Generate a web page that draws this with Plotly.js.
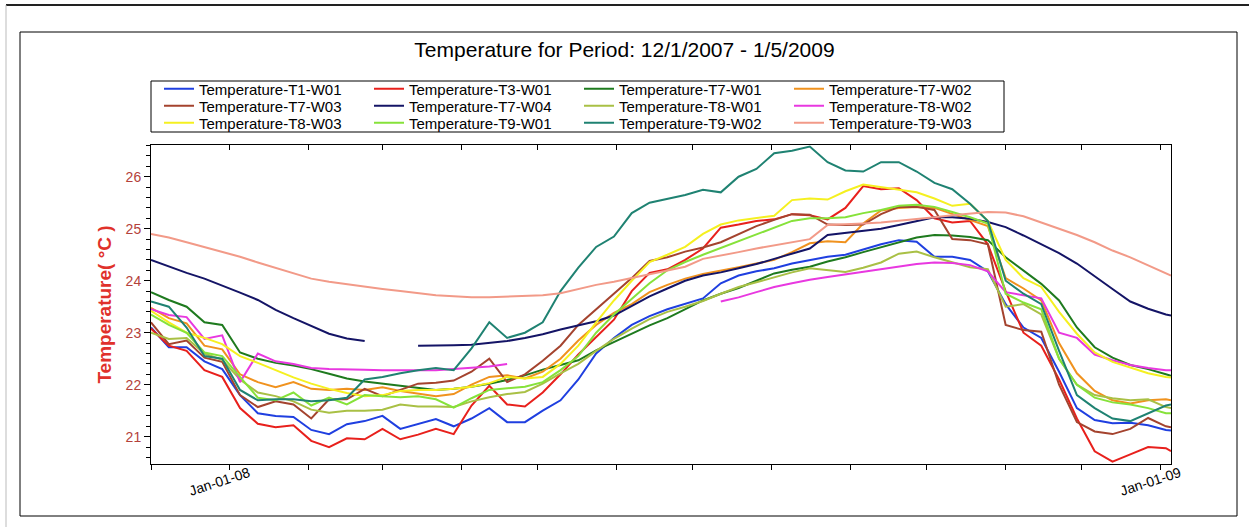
<!DOCTYPE html>
<html>
<head>
<meta charset="utf-8">
<script src="https://cdn.plot.ly/plotly-3.0.1.min.js"></script>
<style>html,body{margin:0;padding:0;background:#fff;}#chart{width:1249px;height:527px;}</style>
</head>
<body>
<div id="chart"></div>
<script>
const dates = ["2007-12-01","2007-12-08","2007-12-15","2007-12-22","2007-12-29","2008-01-05","2008-01-12","2008-01-19","2008-01-26","2008-02-02",
"2008-02-09","2008-02-16","2008-02-23","2008-03-01","2008-03-08","2008-03-15","2008-03-22","2008-03-29","2008-04-05","2008-04-12",
"2008-04-19","2008-04-26","2008-05-03","2008-05-10","2008-05-17","2008-05-24","2008-05-31","2008-06-07","2008-06-14","2008-06-21",
"2008-06-28","2008-07-05","2008-07-12","2008-07-19","2008-07-26","2008-08-02","2008-08-09","2008-08-16","2008-08-23","2008-08-30",
"2008-09-06","2008-09-13","2008-09-20","2008-09-27","2008-10-04","2008-10-11","2008-10-18","2008-10-25","2008-11-01","2008-11-08",
"2008-11-15","2008-11-22","2008-11-29","2008-12-06","2008-12-13","2008-12-20","2008-12-27","2009-01-03","2009-01-05"];

const seriesNames = ["Temperature-T1-W01","Temperature-T3-W01","Temperature-T7-W01","Temperature-T7-W02",
"Temperature-T7-W03","Temperature-T7-W04","Temperature-T8-W01","Temperature-T8-W02",
"Temperature-T8-W03","Temperature-T9-W01","Temperature-T9-W02","Temperature-T9-W03"];

const tempT1W01 = [23.10,22.72,22.72,22.45,22.30,21.80,21.45,21.40,21.38,21.13,
21.05,21.24,21.30,21.40,21.15,21.25,21.34,21.20,21.35,21.55,
21.28,21.28,21.50,21.70,22.10,22.60,22.90,23.15,23.32,23.45,
23.55,23.66,23.95,24.10,24.18,24.24,24.33,24.40,24.46,24.50,
24.60,24.70,24.78,24.75,24.46,24.46,24.40,24.18,23.55,23.10,
22.90,22.25,21.55,21.32,21.26,21.27,21.22,21.13,21.12];
const tempT3W01 = [23.08,22.75,22.65,22.28,22.15,21.55,21.25,21.18,21.22,20.92,
20.80,20.97,20.95,21.15,20.95,21.04,21.15,21.05,21.60,21.98,
21.62,21.58,21.85,22.20,22.58,22.92,23.25,23.80,24.15,24.22,
24.40,24.62,25.02,25.08,25.15,25.18,25.28,25.26,25.18,25.40,
25.82,25.76,25.78,25.55,25.20,25.12,25.15,24.70,23.80,23.00,
22.75,22.10,21.35,20.72,20.52,20.66,20.80,20.78,20.72];
const tempT7W01 = [23.78,23.63,23.50,23.20,23.15,22.62,22.50,22.42,22.37,22.30,
22.21,22.12,22.06,22.02,21.97,21.94,21.90,21.92,21.96,22.02,
22.09,22.18,22.29,22.38,22.47,22.66,22.82,22.98,23.14,23.28,
23.45,23.62,23.75,23.86,24.00,24.14,24.21,24.27,24.37,24.45,
24.55,24.64,24.74,24.83,24.88,24.87,24.84,24.78,24.45,24.20,
23.94,23.62,23.10,22.72,22.52,22.38,22.30,22.20,22.17];
const tempT7W02 = [23.48,23.28,23.18,22.75,22.68,22.20,22.05,21.95,22.05,21.92,
21.90,21.92,21.90,21.95,21.88,21.83,21.78,21.82,22.00,22.15,
22.18,22.12,22.25,22.50,22.85,23.15,23.38,23.55,23.78,23.92,
24.04,24.13,24.19,24.26,24.33,24.40,24.55,24.72,24.76,24.74,
25.10,25.35,25.40,25.42,25.40,25.28,25.17,25.05,24.05,23.85,
23.62,22.80,22.22,21.88,21.70,21.64,21.70,21.72,21.70];
const tempT7W03 = [23.20,22.78,22.85,22.52,22.44,21.80,21.57,21.68,21.62,21.35,
21.72,21.72,21.92,21.78,21.90,22.02,22.04,22.08,22.25,22.50,
22.05,22.20,22.46,22.75,23.15,23.45,23.75,24.05,24.38,24.45,
24.56,24.64,24.74,24.90,25.05,25.17,25.28,25.27,25.08,25.07,
25.08,25.28,25.42,25.42,25.36,24.80,24.78,24.70,23.15,23.05,
23.02,22.00,21.28,21.10,21.05,21.15,21.36,21.20,21.18];
const tempT7W04 = [24.40,24.27,24.15,24.04,23.91,23.77,23.63,23.44,23.28,23.13,
22.98,22.89,22.84,null,null,22.75,22.75,22.76,22.77,22.80,
22.84,22.90,22.97,23.06,23.14,23.22,23.33,23.52,23.70,23.85,
24.00,24.10,24.16,24.24,24.32,24.42,24.52,24.62,24.88,24.92,
24.95,25.00,25.07,25.15,25.22,25.22,25.19,25.13,25.03,24.87,
24.70,24.53,24.33,24.08,23.84,23.60,23.46,23.35,23.33];
const tempT8W01 = [23.00,22.88,22.90,22.60,22.48,22.10,21.85,21.78,21.68,21.52,
21.46,21.50,21.50,21.52,21.62,21.58,21.58,21.57,21.68,21.76,
21.82,21.86,22.02,22.22,22.40,22.65,22.88,23.08,23.26,23.40,
23.50,23.61,23.75,23.88,23.97,24.07,24.16,24.24,24.20,24.17,
24.25,24.35,24.52,24.56,24.45,24.35,24.26,24.22,23.50,23.55,
23.35,22.50,22.00,21.80,21.74,21.70,21.72,21.57,21.55];
const tempT8W02 = [23.45,23.34,23.30,22.88,22.95,22.05,22.60,22.45,22.40,22.32,
22.30,22.30,22.29,22.28,22.28,22.28,22.28,22.30,22.32,22.35,
22.40,null,null,null,null,null,null,null,null,null,
null,null,23.60,23.68,23.78,23.88,23.95,24.02,24.07,24.12,
24.18,24.23,24.28,24.32,24.35,24.34,24.30,24.18,23.78,23.72,
23.66,23.00,22.90,22.58,22.47,22.38,22.32,22.28,22.28];
const tempT8W03 = [23.42,23.20,23.00,22.90,22.78,22.55,22.42,22.28,22.14,22.02,
21.92,21.84,21.78,21.80,21.88,21.90,21.90,21.92,21.96,22.03,
22.15,22.12,22.15,22.40,22.75,23.20,23.62,24.00,24.36,24.50,
24.65,24.90,25.08,25.16,25.20,25.25,25.55,25.58,25.56,25.72,
25.85,25.80,25.76,25.70,25.58,25.44,25.48,25.15,24.40,24.05,
23.88,23.40,22.98,22.62,22.44,22.33,22.22,22.15,22.14];
const tempT9W01 = [23.35,23.15,23.00,22.62,22.55,22.15,21.75,21.70,21.85,21.60,
21.75,21.62,21.80,21.78,21.76,21.78,21.72,21.56,21.74,21.90,
21.93,21.96,22.05,22.28,22.55,23.00,23.35,23.65,23.95,24.20,
24.36,24.50,24.63,24.77,24.90,25.02,25.15,25.20,25.20,25.22,
25.30,25.36,25.44,25.46,25.42,25.32,25.22,25.10,23.75,23.58,
23.45,22.50,22.00,21.75,21.66,21.62,21.55,21.45,21.45];
const tempT9W02 = [23.60,23.50,23.10,22.55,22.50,21.90,21.70,21.72,21.72,21.68,
21.70,21.75,22.10,22.15,22.22,22.28,22.32,22.28,22.70,23.20,
22.90,23.00,23.20,23.80,24.25,24.65,24.85,25.30,25.50,25.58,
25.65,25.75,25.70,26.00,26.15,26.45,26.50,26.58,26.28,26.12,
26.10,26.28,26.28,26.10,25.88,25.76,25.48,25.15,24.00,23.75,
23.55,22.65,21.80,21.55,21.35,21.30,21.45,21.60,21.62];
const tempT9W03 = [24.90,24.83,24.74,24.65,24.56,24.46,24.35,24.25,24.14,24.04,
23.98,23.93,23.88,23.84,23.80,23.76,23.72,23.70,23.68,23.68,
23.69,23.70,23.72,23.76,23.84,23.92,23.98,24.05,24.12,24.20,
24.27,24.42,24.48,24.55,24.62,24.68,24.73,24.80,25.07,25.08,
25.10,25.12,25.15,25.18,25.22,25.26,25.29,25.32,25.31,25.24,
25.12,25.00,24.88,24.74,24.58,24.45,24.30,24.14,24.10];

const seriesValues = [tempT1W01,tempT3W01,tempT7W01,tempT7W02,tempT7W03,tempT7W04,
tempT8W01,tempT8W02,tempT8W03,tempT9W01,tempT9W02,tempT9W03];

const tickDates = ["2007-12-01","2008-01-01","2008-02-01","2008-03-01","2008-04-01","2008-05-01","2008-06-01",
"2008-07-01","2008-08-01","2008-09-01","2008-10-01","2008-11-01","2008-12-01","2009-01-01"];
const tickLabels = ["","Jan-01-08","","","","","","","","","","","","Jan-01-09"];

const colors = ["#1f3fe0","#e8201c","#1e7a1e","#f0921e","#a4432e","#141466",
"#a9c045","#e838e0","#f5f020","#86e23a","#1f8272","#f29a88"];

// legend rows: four entries per row
const legendIds = ["legend","legend","legend","legend","legend2","legend2","legend2","legend2",
"legend3","legend3","legend3","legend3"];

const traces = seriesNames.map((n,i)=>({
  type:"scatter", mode:"lines", name:n, x:dates, y:seriesValues[i], legend:legendIds[i],
  xaxis:(i===seriesNames.length-1 ? "x2" : "x"),
  line:{color:colors[i], width:2}, connectgaps:false
}));

// pixel helpers for paper coords (plot area 151..1171 x 145..464)
const L=151, R=1171, T=145, B=464;
const px = v => (v-L)/(R-L);
const py = v => (B-v)/(B-T);

function legendRow(yc){
  return {orientation:"h", x:px(159), xanchor:"left", y:py(yc), yanchor:"middle",
          entrywidth:165, entrywidthmode:"pixels", borderwidth:0, bgcolor:"rgba(0,0,0,0)",
          font:{size:15, color:"#000"}, traceorder:"normal"};
}

const xRange = ["2007-12-01","2009-01-05"];

const layout = {
  width:1249, height:527,
  margin:{l:151, r:78, t:145, b:63, autoexpand:false},
  paper_bgcolor:"#ffffff", plot_bgcolor:"#ffffff",
  font:{family:"Liberation Sans, Arial, sans-serif", color:"#000"},
  title:{text:"Temperature for Period: 12/1/2007 - 1/5/2009", font:{size:21, color:"#000"},
         x:0.5, xanchor:"center", y:1-50/527, yanchor:"middle"},
  showlegend:true,
  legend:legendRow(89), legend2:legendRow(106), legend3:legendRow(123),
  xaxis:{type:"date", range:xRange, tickmode:"array",
         tickvals:tickDates, ticktext:tickLabels, tickangle:-18, ticklabelshift:19, ticklabelstandoff:-10,
         ticks:"outside", ticklen:5, tickcolor:"#000", showgrid:false, zeroline:false,
         showline:true, linecolor:"#000", linewidth:1, mirror:true,
         tickfont:{size:14, color:"#000"}},
  xaxis2:{type:"date", overlaying:"x", matches:"x", side:"top", anchor:"y", range:xRange,
          tickmode:"array", tickvals:tickDates, showticklabels:false,
          ticks:"inside", ticklen:5, tickcolor:"#000", showgrid:false, zeroline:false, showline:false},
  yaxis:{range:[20.475,26.61], dtick:1, tick0:20, ticks:"outside", ticklen:6, tickcolor:"#000",
         minor:{dtick:0.2, ticks:"outside", ticklen:4, tickcolor:"#000", showgrid:false},
         showgrid:false, zeroline:false, showline:true, linecolor:"#000", linewidth:1, mirror:true,
         tickfont:{size:14, color:"#b4413a"},
         title:{text:"Temperature( °C )", font:{size:19, color:"#e0312b", weight:"bold"}, standoff:8}},
  shapes:[
    {type:"rect", xref:"paper", yref:"paper", x0:px(20), x1:px(1237), y0:py(32), y1:py(516),
     line:{color:"#000", width:1}, layer:"below"},
    {type:"line", xref:"paper", yref:"paper", x0:px(6), x1:px(1249), y0:py(5), y1:py(5),
     line:{color:"#222", width:2}},
    {type:"line", xref:"paper", yref:"paper", x0:px(6), x1:px(6), y0:py(5), y1:py(527),
     line:{color:"#bbb", width:1}},
    {type:"rect", xref:"paper", yref:"paper", x0:px(151), x1:px(1004), y0:py(81), y1:py(132),
     line:{color:"#000", width:1}, fillcolor:"rgba(0,0,0,0)"}
  ]
};

Plotly.newPlot("chart", traces, layout, {staticPlot:true, displayModeBar:false});
</script>
</body>
</html>
